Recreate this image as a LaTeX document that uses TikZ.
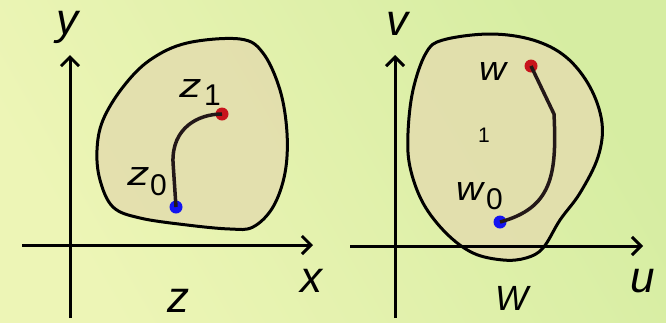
\documentclass[tikz,border=0pt]{standalone}
\usepackage{fontspec}
\setmainfont{Liberation Sans}
\usetikzlibrary{arrows.meta}
\definecolor{bgA}{HTML}{EDF5B6}
\definecolor{bgB}{HTML}{D6EDA2}
\definecolor{blobfill}{HTML}{E3DDAE}
\definecolor{curvec}{HTML}{231818}
\definecolor{dotred}{HTML}{C8141C}
\definecolor{dotblue}{HTML}{1414F0}
\tikzset{
  axis/.style={line width=3pt,-{Straight Barb[length=9pt,width=18pt,line width=3pt]}},
  blob/.style={line width=3pt,fill=blobfill,fill opacity=0.85,draw opacity=1},
  pathc/.style={line width=3.5pt,curvec},
  bigl/.style={anchor=base west,inner sep=0pt,font=\fontsize{44}{44}\selectfont\itshape},
  capl/.style={anchor=base west,inner sep=0pt,font=\fontsize{35}{35}\selectfont\itshape},
  midl/.style={anchor=base west,inner sep=0pt,font=\fontsize{34}{34}\selectfont\itshape},
  subl/.style={anchor=base west,inner sep=0pt,font=\fontsize{30}{30}\selectfont},
  onel/.style={anchor=base west,inner sep=0pt,font=\fontsize{21}{21}\selectfont},
  dotc/.style={circle,inner sep=0pt,minimum size=13pt}
}
\begin{document}
\begin{tikzpicture}[x=1pt,y=-1pt]
\useasboundingbox (0,0) rectangle (666,322);
\shade[left color=bgA,right color=bgB,shading angle=120] (0,0) rectangle (666,322);
% blobs
\draw[blob] plot[smooth cycle,tension=0.6] coordinates {(240,39) (263,53) (280,90) (287,133) (285,173) (273,207) (253,227) (230,229) (187,225) (140,218) (113,207) (100,180) (97,150) (103,120) (123,87) (150,60) (187,43)};
\draw[blob] plot[smooth cycle,tension=0.6] coordinates {(443,40) (490,34) (533,40) (566,57) (590,87) (602,123) (598,157) (580,193) (560,220) (543,248) (526,258) (503,260) (473,253) (446,233) (423,203) (410,167) (408,133) (413,90) (426,53)};
% left panel
\coordinate (ylo) at (70,318);
\coordinate (yhi) at (70,55);
\coordinate (xlo) at (22,245);
\coordinate (xhi) at (313,245);
\draw[axis] (ylo) -- (yhi);
\draw[axis] (xlo) -- (xhi);
\node[dotc,fill=dotblue] (z0) at (176,207) {};
\node[dotc,fill=dotred] (z1) at (222,114) {};
\draw[pathc] (z0.center) -- (173,162) .. controls (172,128) and (198,114) .. (z1.center);
\node[bigl] (ylab) at (56,34) {y};
\node[bigl] (xlab) at (300,292) {x};
\node[bigl] (zlab) at (167,312) {z};
\node[midl,xscale=1.3] (z1a) at (179,97) {z};
\node[subl] (z1b) at (204,105) {1};
\node[midl,xscale=1.3] (z0a) at (127,185) {z};
\node[subl] (z0b) at (150,195) {0};
% right panel
\coordinate (vlo) at (395,318);
\coordinate (vhi) at (395,55);
\coordinate (ulo) at (350,246);
\coordinate (uhi) at (643,246);
\draw[axis] (vlo) -- (vhi);
\draw[axis] (ulo) -- (uhi);
\node[dotc,fill=dotred] (w1) at (531,66) {};
\node[dotc,fill=dotblue] (w0) at (500,222) {};
\draw[pathc] (w1.center) -- (554,114) .. controls (557,175) and (552,208) .. (w0.center);
\node[bigl] (vlab) at (386,35) {v};
\node[bigl] (ulab) at (630,292) {u};
\node[capl] (Wlab) at (495,310) {W};
\node[midl,xscale=1.1] (wa) at (479,80) {w};
\node[onel] (one) at (478,142) {1};
\node[midl,xscale=1.1] (w0a) at (456,200) {w};
\node[subl] (w0b) at (486,209) {0};
\end{tikzpicture}
\end{document}
